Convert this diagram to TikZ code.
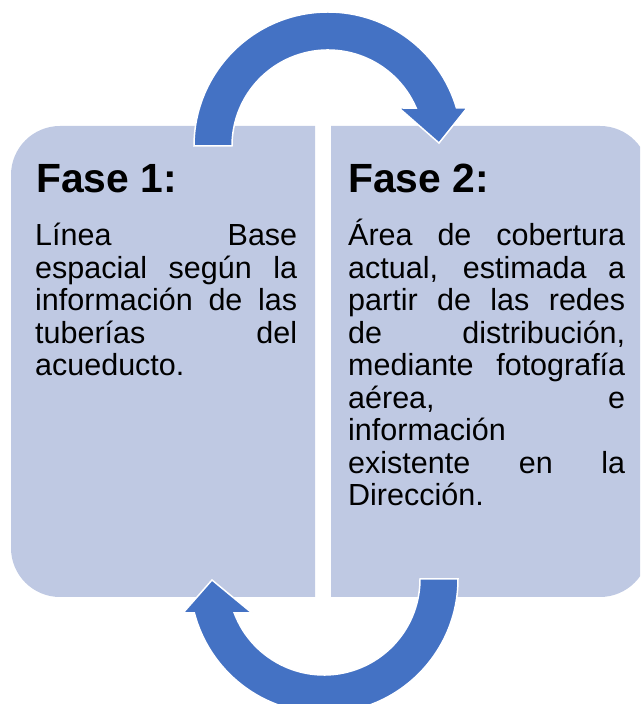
\documentclass[tikz,border=0pt]{standalone}
\usepackage{fontspec}
\setmainfont{Liberation Sans}
\usepackage{tikz}
\definecolor{cajafill}{RGB}{191,201,227}
\definecolor{flechafill}{RGB}{68,114,196}

\begin{document}
\begin{tikzpicture}[x=1pt,y=1pt,inner sep=0pt,
  caja/.style={fill=cajafill},
  flecha/.style={fill=flechafill,draw=white,line width=1.5pt,line join=miter},
  titulo/.style={font=\fontsize{40.8}{44}\selectfont\bfseries,anchor=base west},
  cuerpo/.style={font=\fontsize{30.5}{32.5}\selectfont,align=justify,anchor=base west}]
\clip (0,0) rectangle (640,704);
% boxes of the two phases
\fill[caja] (315,107) -- (315,578) -- (60,578) arc[start angle=90,end angle=180,radius=49pt]
    -- (11,156) arc[start angle=180,end angle=270,radius=49pt] -- cycle;
\fill[caja] (331,107) -- (331,578) -- (600,578) arc[start angle=90,end angle=0,radius=49pt]
    -- (649,156) arc[start angle=0,end angle=-90,radius=49pt] -- cycle;
\node[titulo] (f_1) at (36,511) {Fase 1:};
\node[titulo] (f_2) at (348,511) {Fase 2:};
\node[cuerpo,text width=262pt] (d_1) at (35,458) {L\'inea Base\linebreak
    espacial seg\'un la\linebreak informaci\'on de las\linebreak tuber\'ias del\linebreak acueducto.};
\node[cuerpo,text width=277pt] (d_2) at (348,458) {\'Area de cobertura\linebreak
    actual, estimada a\linebreak partir de las redes\linebreak de distribuci\'on,\linebreak
    mediante fotograf\'ia\linebreak a\'erea, e\linebreak informaci\'on\linebreak
    existente en la\linebreak Direcci\'on.};
% cycle arrows
\coordinate (c_1) at (328,558);
\coordinate (c_2) at (324,125);
\filldraw[flecha,shift={(c_1)}] (180:134pt) arc[start angle=180,end angle=16.5,radius=134pt]
    -- (139,38) -- (111,3) -- (71,38) -- (23.3:96pt) arc[start angle=23.3,end angle=180,radius=96pt] -- cycle;
\filldraw[flecha,shift={(c_2)}] (0:134pt) arc[start angle=0,end angle=-165.3,radius=134pt]
    -- (-141,-34) -- (-112,-1) -- (-72,-34) -- (-159.3:96pt) arc[start angle=-159.3,end angle=0,radius=96pt] -- cycle;
\end{tikzpicture}
\end{document}
